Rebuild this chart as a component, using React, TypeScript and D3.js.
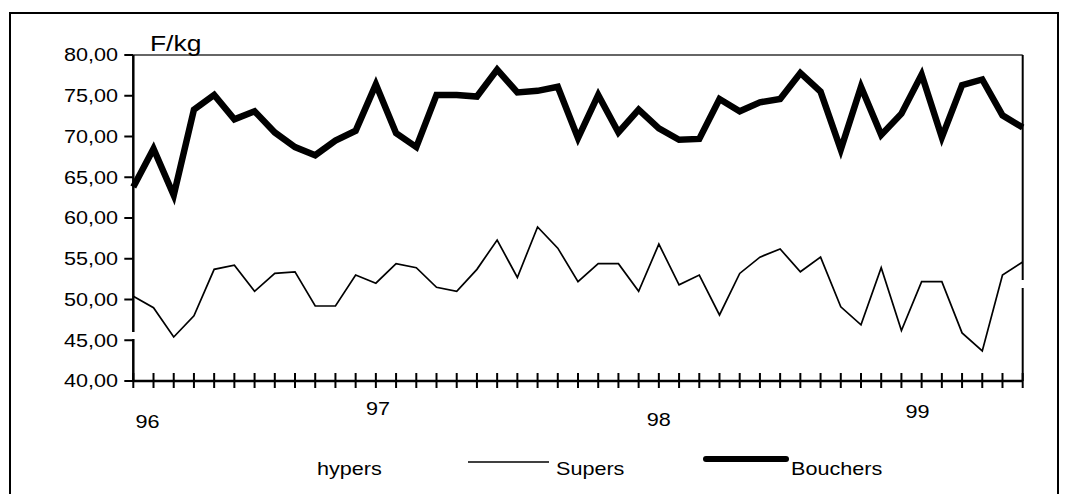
import React from 'react';
import * as d3 from 'd3';

// monthly points, Jan 96 -> Sep 99
const periods = d3.range(45);

const supers = [
  50.4, 49.0, 45.4, 48.0, 53.7, 54.2, 51.0, 53.2, 53.4, 49.2, 49.2, 53.0,
  52.0, 54.4, 53.9, 51.5, 51.0, 53.7, 57.3, 52.7, 58.9, 56.3, 52.2, 54.4,
  54.4, 51.0, 56.8, 51.8, 53.0, 48.1, 53.2, 55.2, 56.2, 53.4, 55.2, 49.1,
  46.9, 53.9, 46.2, 52.2, 52.2, 45.9, 43.7, 53.0, 54.6,
];

const bouchers = [
  63.8, 68.5, 62.8, 73.3, 75.1, 72.1, 73.1, 70.5, 68.7, 67.7, 69.5, 70.7,
  76.4, 70.4, 68.7, 75.1, 75.1, 74.9, 78.2, 75.4, 75.6, 76.1, 69.8, 75.1,
  70.5, 73.3, 71.0, 69.6, 69.7, 74.6, 73.1, 74.2, 74.6, 77.8, 75.5, 68.4,
  76.1, 70.2, 72.8, 77.6, 69.9, 76.3, 77.0, 72.6, 71.1,
];

const yTicks = [40, 45, 50, 55, 60, 65, 70, 75, 80];
const yearLabels = ['96', '97', '98', '99'];
const yearPos = [0.7, 12.1, 26.0, 38.8];
const yearDy = [13, 0, 11, 3];

const legendItems = ['hypers', 'Supers', 'Bouchers'];

const fmt = (v: number) => v.toFixed(2).replace('.', ',');
const FONT = 'Liberation Sans, Arial, sans-serif';

export default function App() {
  const x = d3.scaleLinear().domain([0, 44]).range([133.3, 1022.7]);
  const y = d3.scaleLinear().domain([40, 80]).range([381, 55]);

  const line = d3
    .line<number>()
    .x((_, i) => x(periods[i]))
    .y((d) => y(d));

  const stretched = (tx: number, ty: number) => `translate(${tx},${ty}) scale(1.2,1)`;

  return (
    <svg
      width={1072}
      height={494}
      style={{ position: 'absolute', left: 0, top: 0, background: '#fff' }}
      fontFamily={FONT}
    >
      <rect x={10} y={13} width={1048} height={500} fill="none" stroke="#000" strokeWidth={2} />

      {/* plot frame */}
      <line x1={x(0)} x2={x(44)} y1={y(80)} y2={y(80)} stroke="#333" strokeWidth={1.5} />
      <line x1={x(44)} x2={x(44)} y1={y(80)} y2={280} stroke="#000" strokeWidth={2} />
      <line x1={x(44)} x2={x(44)} y1={288} y2={y(40)} stroke="#000" strokeWidth={2} />

      {/* y axis with break */}
      <line x1={x(0)} x2={x(0)} y1={y(80)} y2={332} stroke="#000" strokeWidth={2.5} />
      <line x1={x(0)} x2={x(0)} y1={339} y2={y(40)} stroke="#000" strokeWidth={2.5} />
      {yTicks.map((t) => (
        <g key={t}>
          <line x1={x(0) - 9} x2={x(0)} y1={y(t)} y2={y(t)} stroke="#000" strokeWidth={2} />
          <text
            transform={stretched(118, y(t))}
            textAnchor="end"
            dy="0.36em"
            fontSize={18}
          >
            {fmt(t)}
          </text>
        </g>
      ))}
      <text transform={stretched(150, 51)} fontSize={22}>
        F/kg
      </text>

      {/* x axis */}
      <line x1={x(0)} x2={x(44)} y1={y(40)} y2={y(40)} stroke="#000" strokeWidth={2.5} />
      {periods.map((p) => (
        <line key={p} x1={x(p)} x2={x(p)} y1={y(40) - 8} y2={y(40) + 7} stroke="#000" strokeWidth={2} />
      ))}
      {yearLabels.map((lab, i) => (
        <text
          key={lab}
          transform={stretched(x(yearPos[i]), 415 + yearDy[i])}
          textAnchor="middle"
          fontSize={18}
        >
          {lab}
        </text>
      ))}

      {/* series */}
      <path d={line(supers) ?? ''} fill="none" stroke="#000" strokeWidth={1.7} strokeLinejoin="miter" />
      <path d={line(bouchers) ?? ''} fill="none" stroke="#000" strokeWidth={6.5} strokeLinejoin="miter" />

      {/* legend */}
      <text transform={stretched(317, 475)} fontSize={18}>
        {legendItems[0]}
      </text>
      <line x1={468} x2={549} y1={462} y2={462} stroke="#000" strokeWidth={1.7} />
      <text transform={stretched(556, 475)} fontSize={18}>
        {legendItems[1]}
      </text>
      <line x1={706} x2={786} y1={459} y2={459} stroke="#000" strokeWidth={6} strokeLinecap="round" />
      <text transform={stretched(791, 475)} fontSize={18}>
        {legendItems[2]}
      </text>
    </svg>
  );
}
